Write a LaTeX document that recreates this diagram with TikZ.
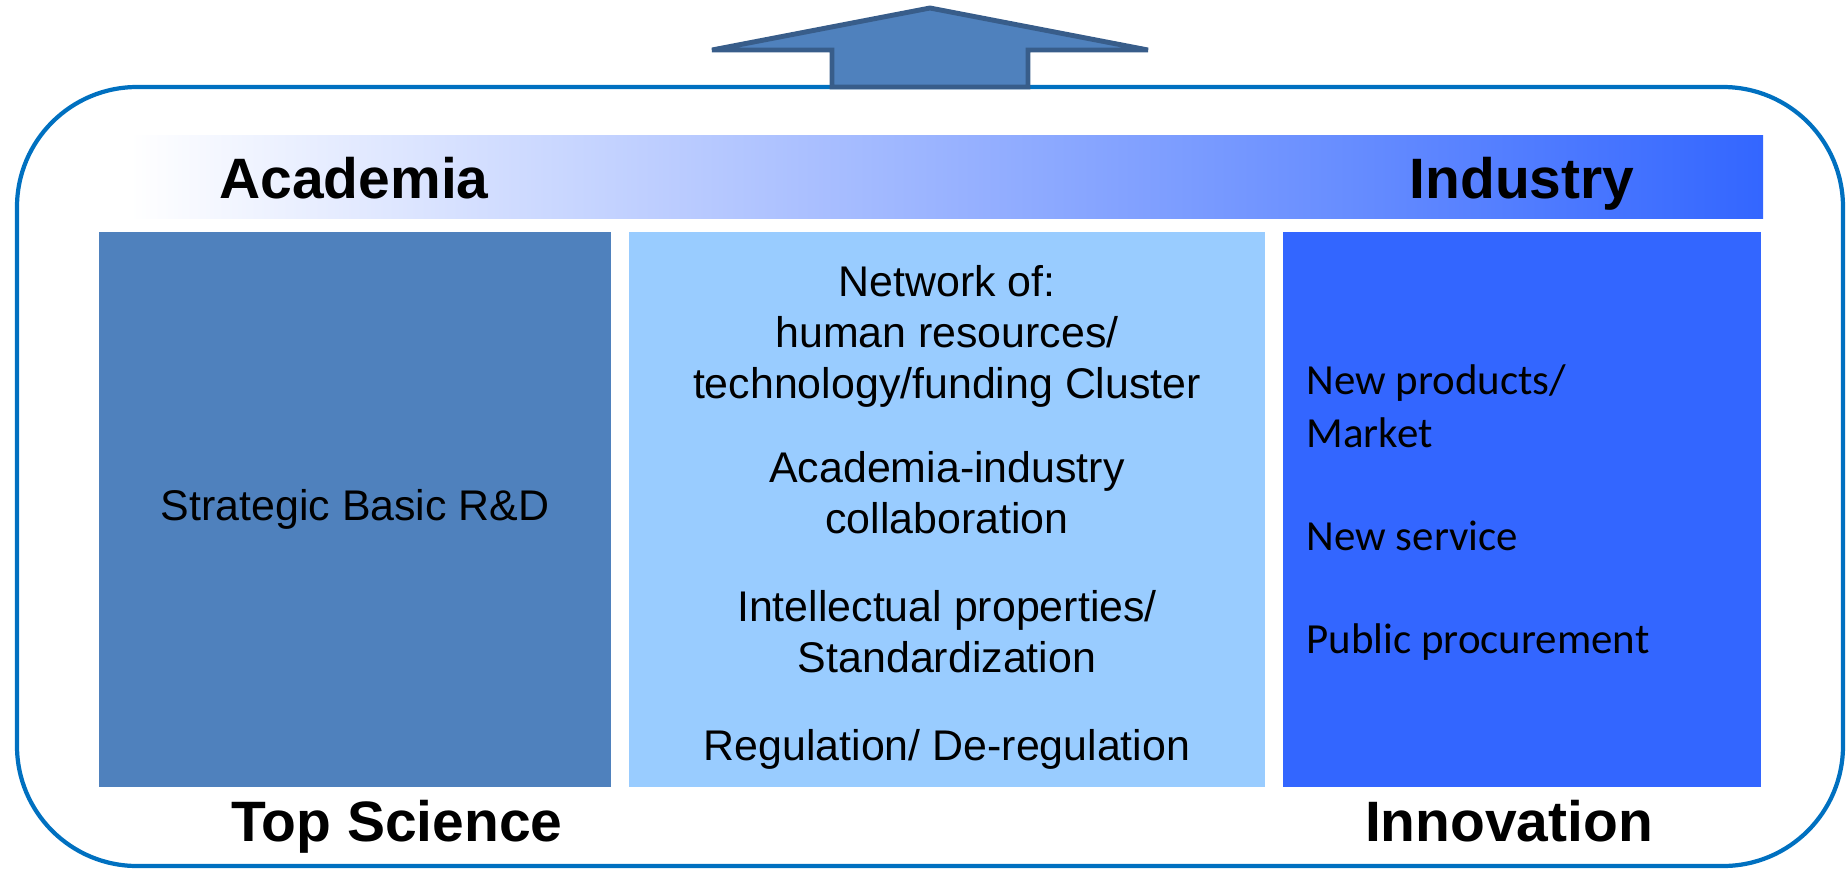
\documentclass[tikz,border=0pt]{standalone}
\usepackage{fontspec}
\setmainfont{Liberation Sans}
\newfontfamily\calibri{Carlito}
\definecolor{framecol}{HTML}{0070C0}
\definecolor{steelcol}{HTML}{4F81BD}
\definecolor{steeldark}{HTML}{385D8A}
\definecolor{skycol}{HTML}{99CCFF}
\definecolor{royalcol}{HTML}{3366FF}
\definecolor{lavcol}{HTML}{D4D8FF}

\begin{document}
\begin{tikzpicture}[x=0.01cm,y=-0.01cm,
  headnode/.style={anchor=base, inner sep=0, font=\fontsize{16.2}{19}\selectfont\bfseries},
  boxnode/.style={anchor=north west, inner sep=0, outer sep=0, minimum height=5.55cm},
  midtext/.style={anchor=base, inner sep=0, align=center, font=\fontsize{12.2}{14.5}\selectfont},
  righttext/.style={anchor=base west, inner sep=0, align=left, font=\calibri\fontsize{12.2}{14.8}\selectfont}
]
\useasboundingbox (0,0) rectangle (1847,869);

\draw[framecol, line width=1.2pt, rounded corners=1.2cm] (17,87) rectangle (1843,866);
\draw[steeldark, fill=steelcol, line width=1.4pt] (712,50) -- (930,8) -- (1148,50) -- (1028,50)
  -- (1028,87) -- (832,87) -- (832,50) -- cycle;

\shade[left color=white, middle color=lavcol, right color=royalcol] (130,135) rectangle (1763,218);

\node[headnode] (academia) at (354,198) {Academia};
\node[headnode] (industry) at (1522,198) {Industry};

\node[boxnode, fill=steelcol, minimum width=5.12cm, font=\fontsize{12.2}{14.5}\selectfont] (basic) at (99,232) {Strategic Basic R\&D};
\node[boxnode, fill=skycol, minimum width=6.36cm] (network) at (629,232) {};
\node[boxnode, fill=royalcol, minimum width=4.78cm] (market) at (1283,232) {};

\node[midtext] (cluster) at (947,398) {Network of:\\human resources/\\technology/funding Cluster};
\node[midtext] (collab) at (947,533) {Academia-industry\\collaboration};
\node[midtext] (ip) at (947,672) {Intellectual properties/\\Standardization};
\node[midtext] (regul) at (947,760) {Regulation/ De-regulation};

\node[righttext] (products) at (1306,447) {New products/\\Market};
\node[righttext] (service) at (1306,550) {New service};
\node[righttext] (procure) at (1306,653) {Public procurement};

\node[headnode] (topsci) at (397,841) {Top Science};
\node[headnode] (innov) at (1509,841) {Innovation};

\end{tikzpicture}
\end{document}
